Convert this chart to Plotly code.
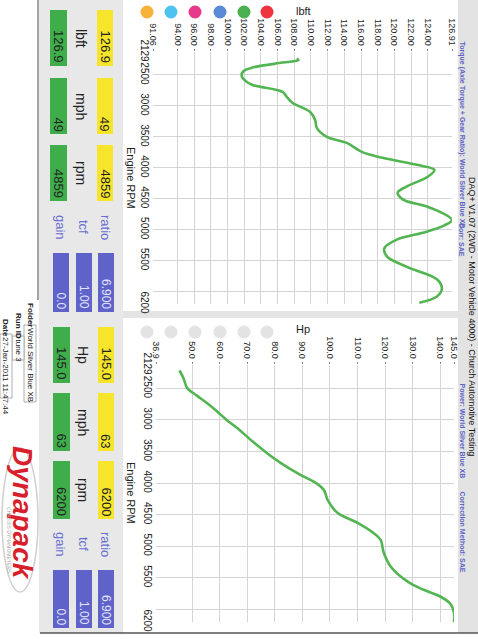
import plotly.graph_objects as go

W, H = 478, 639

# ---------------- data ----------------
tq_rpm = [2235, 2260, 2300, 2380, 2440, 2520, 2600, 2661, 2774, 2855, 2952, 3097, 3226, 3355, 3500,
          3597, 3742, 3839, 3952, 4032, 4145, 4300, 4400, 4510, 4640, 4840, 4930, 5050, 5160,
          5300, 5430, 5600, 5800, 5950, 6080, 6180]
tq_val = [108.3, 108.5, 106.6, 103.0, 101.9, 101.7, 102.2, 103.0, 106.6, 107.1, 107.8, 109.9, 110.5,
          110.7, 111.9, 114.3, 116.1, 118.6, 122.7, 124.8, 124.0, 121.5, 120.4, 121.0, 124.2, 126.9,
          126.0, 123.4, 120.3, 118.8, 119.1, 121.5, 125.1, 125.7, 125.1, 123.0]

hp_rpm = [2216, 2330, 2420, 2500, 2610, 2770, 2900, 3000, 3115, 3350, 3530, 3690, 3870, 4000, 4110,
          4200, 4270, 4470, 4630, 4790, 4900, 5100, 5320, 5560, 5690, 5800, 5920, 6050, 6200]
hp_val = [45.4, 46.8, 47.5, 48.3, 51.6, 56.5, 60.0, 62.5, 66.0, 72.2, 77.3, 82.5, 89.3, 95.0, 97.8,
          98.6, 99.2, 102.7, 110.0, 115.8, 118.4, 119.5, 122.0, 128.2, 134.0, 140.2, 143.8, 145.0, 145.0]

tq_ticks = [91.06, 94.00, 96.00, 98.00, 100.00, 102.00, 104.00, 106.00, 108.00, 110.00, 112.00,
            114.00, 116.00, 118.00, 120.00, 122.00, 124.00, 126.91]
hp_ticks = [36.9, 50.0, 60.0, 70.0, 80.0, 90.0, 100.0, 110.0, 120.0, 130.0, 140.0, 145.0]
rpm_ticks = [2129, 2500, 3000, 3500, 4000, 4500, 5000, 5500, 6000, 6200]
rpm_labels = ["2129", "2500", "3000", "3500", "4000", "4500", "5000", "5500", "", "6200"]

legend_colors = ["#f7b23b", "#4fc3f0", "#e8388a", "#5b8ad6", "#4caf50", "#f0343f"]

tq_boxes = {"yellow": ["126.9", "49", "4859"], "green": ["126.9", "49", "4859"],
            "labels": ["lbft", "mph", "rpm"]}
hp_boxes = {"yellow": ["145.0", "63", "6200"], "green": ["145.0", "63", "6200"],
            "labels": ["Hp", "mph", "rpm"]}
ratio_names = ["ratio", "tcf", "gain"]
ratio_vals = ["6.900", "1.00", "0.0"]

title = "DAQ+ V1.07 (2WD - Motor Vehicle 4000) - Church Automotive Testing"
sub_tq = ("Torque (Axle Torque + Gear Ratio): World Silver Blue XB", "Corr: SAE")
sub_hp = ("Power: World Silver Blue XB", "Correction Method: SAE")
footer = [("Folder", "World Silver Blue XB"), ("Run ID", "tune 3"), ("Date", "27-Jan-2011 11:47:44")]

# ---------------- helpers ----------------
def px(x):
    return x / W

def py(y):
    return 1 - y / H

LINE = "#52b552"
FONT = "Liberation Sans, Arial, sans-serif"

fig = go.Figure()
fig.add_trace(go.Scatter(x=tq_val, y=tq_rpm, mode="lines", xaxis="x", yaxis="y",
                         line=dict(color=LINE, width=2.6, shape="spline", smoothing=1.0),
                         showlegend=False, hoverinfo="x+y"))
fig.add_trace(go.Scatter(x=hp_val, y=hp_rpm, mode="lines", xaxis="x2", yaxis="y2",
                         line=dict(color=LINE, width=2.6, shape="spline", smoothing=1.0),
                         showlegend=False, hoverinfo="x+y"))

grid = "#d4d4d4"
common_x = dict(side="top", tickangle=90, ticks="outside", ticklen=2, tickcolor="#888",
                showgrid=True, gridcolor=grid, gridwidth=1, zeroline=False, showline=False,
                automargin=False, ticklabelstandoff=0,
                tickfont=dict(size=9, color="#222", family=FONT))
common_y = dict(tickangle=90, ticks="", showgrid=True, gridcolor=grid, gridwidth=1,
                zeroline=False, showline=False, tickvals=rpm_ticks, ticktext=rpm_labels,
                automargin=False,
                tickfont=dict(size=10, color="#222", family=FONT), ticklabelstandoff=1)

tq_dom_x = [px(153), px(452)]
tq_dom_y = [py(304), py(52)]
hp_dom_x = [px(156), px(454)]
hp_dom_y = [py(622), py(365)]

fig.update_layout(
    width=W, height=H, margin=dict(l=0, r=0, t=0, b=0, pad=0, autoexpand=False),
    paper_bgcolor="white", plot_bgcolor="white",
    font=dict(family=FONT, color="#222"),
    xaxis=dict(domain=tq_dom_x, anchor="y", range=[tq_ticks[0], tq_ticks[-1]],
               tickvals=tq_ticks, ticktext=[f"{v:.2f}" for v in tq_ticks], **common_x),
    yaxis=dict(domain=tq_dom_y, anchor="x", range=[6200, 2129], **common_y),
    xaxis2=dict(domain=hp_dom_x, anchor="y2", range=[hp_ticks[0], hp_ticks[-1]],
                tickvals=hp_ticks, ticktext=[f"{v:.1f}" for v in hp_ticks], **common_x),
    yaxis2=dict(domain=hp_dom_y, anchor="x2", range=[6200, 2129], **common_y),
)

shapes = []
ann = []

def rect(x0, y0, x1, y1, fill, line=None, lw=0, layer="below"):
    shapes.append(dict(type="rect", xref="paper", yref="paper", x0=px(x0), x1=px(x1),
                       y0=py(y1), y1=py(y0), fillcolor=fill, layer=layer,
                       line=dict(color=line or fill, width=lw)))

def text(x, y, s, size=11, color="#222", xa="center", ya="middle", bold=False, italic=False,
         angle=90, family=FONT):
    if bold:
        s = f"<b>{s}</b>"
    if italic:
        s = f"<i>{s}</i>"
    ann.append(dict(x=px(x), y=py(y), xref="paper", yref="paper", text=s, showarrow=False,
                    textangle=angle, xanchor=xa, yanchor=ya, borderpad=0,
                    font=dict(size=size, color=color, family=family)))

# background panels
rect(39, 0, 123, 633, "#e8e8e8")
rect(458, 0, 478, 633, "#e3e3e3")
rect(123, 311, 458, 318, "#e4e4e4")
shapes.append(dict(type="line", xref="paper", yref="paper", x0=px(40), x1=px(478),
                   y0=py(633), y1=py(633), line=dict(color="#555", width=1.5)))
shapes.append(dict(type="line", xref="paper", yref="paper", x0=px(38), x1=px(38),
                   y0=py(0), y1=py(300), line=dict(color="#666", width=1.2)))

# legend circles
cx = [147, 171, 195, 220, 244, 267]
for i, c in enumerate(legend_colors):
    for cy, col in ((12, c), (332, "#e3e3e3")):
        shapes.append(dict(type="circle", xref="paper", yref="paper", layer="below",
                           x0=px(cx[i] - 6.5), x1=px(cx[i] + 6.5), y0=py(cy + 6.5),
                           y1=py(cy - 6.5), fillcolor=col, line=dict(width=0)))
text(303, 11, "lbft", size=11, angle=0)
text(303, 329, "Hp", size=11, angle=0)

# axis titles
text(131, 178, "Engine RPM", size=11)
text(131, 493, "Engine RPM", size=11)

# value boxes
def panel(boxes, ys, yx, gx, ratio_y):
    for i, (y0, y1) in enumerate(ys):
        rect(yx[0], y0, yx[1], y1, "#f6e52a")
        rect(gx[0], y0, gx[1], y1, "#3fae4a")
        text((yx[0] + yx[1]) / 2, y1 - 2, boxes["yellow"][i], size=13, ya="bottom")
        text((gx[0] + gx[1]) / 2, y1 - 2, boxes["green"][i], size=13, ya="bottom")
        text((yx[0] + gx[1]) / 2 - 1, (y0 + y1) / 2, boxes["labels"][i], size=14)
    bx = [(98, 114), (76, 92), (53, 69)]
    for j in range(3):
        rect(bx[j][0], ratio_y[0], bx[j][1], ratio_y[1], "#5f63c9")
        text((bx[j][0] + bx[j][1]) / 2, ratio_y[1] - 2, ratio_vals[j], size=12,
             color="#e4e6ff", ya="bottom")
        text((bx[j][0] + bx[j][1]) / 2, ratio_y[0] - 26, ratio_names[j], size=13, color="#6a6ed2")

panel(tq_boxes, [(10, 66), (78, 134), (145, 201)], (97, 113), (50, 67), (253, 312))
panel(hp_boxes, [(327, 383), (393, 451), (461, 519)], (98, 114), (53, 70), (570, 628))

# title band
text(472.5, 176, title, size=9, ya="top", color="#111")
text(462, 40, sub_tq[0], size=7, ya="top", color="#5a64c6", bold=True)
text(462, 222, sub_tq[1], size=7, ya="top", color="#5a64c6", bold=True)
text(462, 382, sub_hp[0], size=7, ya="top", color="#5a64c6", bold=True)
text(462, 490, sub_hp[1], size=7, ya="top", color="#5a64c6", bold=True)

# footer
fx = [30, 18, 6]
fy_label = [302, 312, 318]
fy_box = [(325, 402), (336, 360), (334, 398)]
for i, (lab, val) in enumerate(footer):
    text(fx[i], fy_label[i], lab, size=8, ya="top", bold=True)
    rect(fx[i] - 6, fy_box[i][0], fx[i] + 6, fy_box[i][1], "white", line="#999", lw=0.8)
    text(fx[i], fy_box[i][0] + 2, val, size=8, ya="top")

# logo
shapes.append(dict(type="circle", xref="paper", yref="paper", x0=px(2), x1=px(38),
                   y0=py(592), y1=py(448), fillcolor="rgba(0,0,0,0)",
                   line=dict(color="#cfcfcf", width=1.5)))
text(23, 513, "Dynapack", size=28, color="#d7202b", bold=True, italic=True)
text(9, 540, "CHASSIS DYNAMOMETERS", size=5, color="#aaa")

fig.update_layout(shapes=shapes, annotations=ann)
fig.write_html("out.html")
